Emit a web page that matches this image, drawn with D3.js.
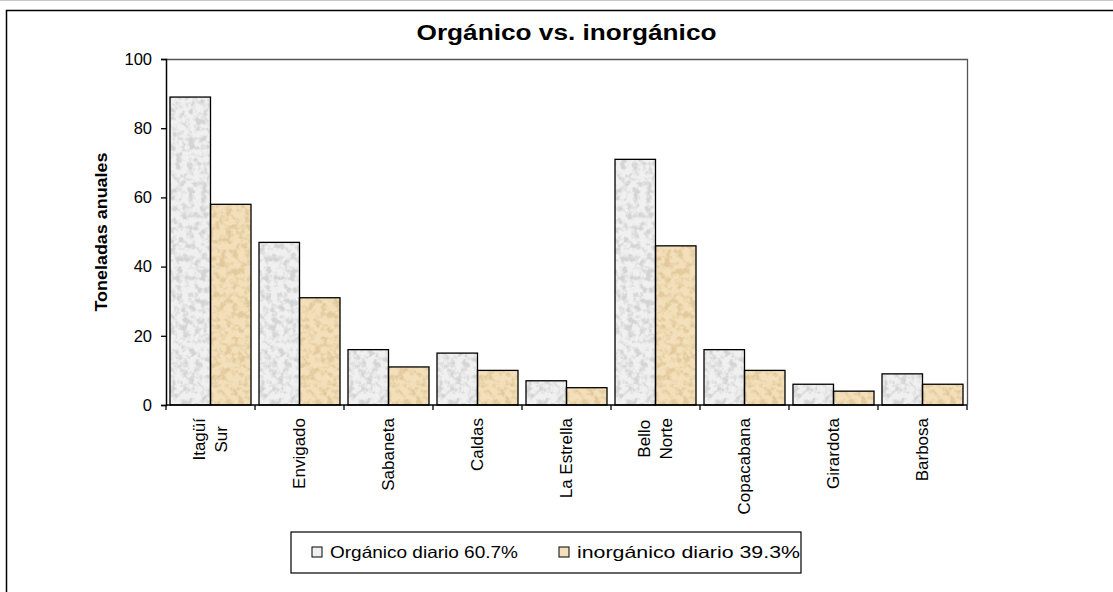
<!DOCTYPE html>
<html>
<head>
<meta charset="utf-8">
<script src="https://cdn.jsdelivr.net/npm/d3@7"></script>
<style>
  body { margin: 0; background: #fff; }
  svg { display: block; font-family: "Liberation Sans", Arial, sans-serif; }
</style>
</head>
<body>
<div id="chart"></div>
<script>
// data
const categories = [["Itagüí", "Sur"], ["Envigado"], ["Sabaneta"], ["Caldas"], ["La Estrella"],
                    ["Bello", "Norte"], ["Copacabana"], ["Girardota"], ["Barbosa"]];
const organico   = [89, 47, 16, 15, 7, 71, 16, 6, 9];
const inorganico = [58, 31, 11, 10, 5, 46, 10, 4, 6];
const seriesNames = ["Orgánico diario 60.7%", "inorgánico diario 39.3%"];
const yTicks = [0, 20, 40, 60, 80, 100];

const width = 1113, height = 592;
const plot = { left: 166, right: 967, top: 59, bottom: 405 };

const svg = d3.select("#chart").append("svg")
    .attr("width", width)
    .attr("height", height);

// speckled fills, kept soft like the reference's textured bars
const defs = svg.append("defs");
function speckle(id, spot, seed) {
    const f = defs.append("filter").attr("id", id)
        .attr("x", 0).attr("y", 0).attr("width", 1).attr("height", 1)
        .attr("color-interpolation-filters", "sRGB");
    f.append("feTurbulence").attr("type", "fractalNoise")
        .attr("baseFrequency", 0.16).attr("numOctaves", 3).attr("seed", seed).attr("result", "noise");
    f.append("feColorMatrix").attr("in", "noise").attr("type", "matrix")
        .attr("values", `0 0 0 0 ${spot[0]} 0 0 0 0 ${spot[1]} 0 0 0 0 ${spot[2]} 3.6 0 0 0 -1.55`)
        .attr("result", "spots");
    f.append("feGaussianBlur").attr("in", "spots").attr("stdDeviation", 0.6).attr("result", "soft");
    f.append("feComposite").attr("in", "soft").attr("in2", "SourceGraphic").attr("operator", "atop");
}
speckle("speckG", [0.83, 0.83, 0.83], 3);
speckle("speckT", [0.89, 0.79, 0.61], 7);

// outer frame
svg.append("line").attr("x1", 0).attr("x2", width).attr("y1", 0.5).attr("y2", 0.5)
    .attr("stroke", "#c8c8c8");
svg.append("path").attr("d", `M6.5,${height} V10.5 H${width}`)
    .attr("fill", "none").attr("stroke", "#000").attr("stroke-width", 1.5);

const x0 = d3.scaleBand()
    .domain(d3.range(categories.length))
    .range([plot.left, plot.right])
    .paddingInner(0.09)
    .paddingOuter(0.045);

const x1 = d3.scaleBand()
    .domain([0, 1])
    .range([0, x0.bandwidth()]);

const y = d3.scaleLinear()
    .domain([0, 100])
    .range([plot.bottom, plot.top]);

// plot area border (top grey, right dark)
svg.append("path")
    .attr("d", `M${plot.left},${plot.top + 0.5} H${plot.right + 0.5} V${plot.bottom}`)
    .attr("fill", "none").attr("stroke", "#555").attr("stroke-width", 1.3);

// bars
const fills = ["#f0f0f0", "#f3e0bb"];
const filters = ["url(#speckG)", "url(#speckT)"];
const rows = categories.map((c, i) => ({ i, vals: [organico[i], inorganico[i]] }));

const groups = svg.append("g").selectAll("g")
    .data(rows)
    .join("g")
    .attr("transform", d => `translate(${x0(d.i)},0)`);

groups.selectAll("rect.fill")
    .data(d => d.vals.map((v, s) => ({ v, s })))
    .join("rect")
    .attr("class", "fill")
    .attr("x", d => x1(d.s))
    .attr("y", d => y(d.v))
    .attr("width", x1.bandwidth())
    .attr("height", d => y(0) - y(d.v))
    .attr("fill", d => fills[d.s])
    .attr("filter", d => filters[d.s]);

groups.selectAll("rect.edge")
    .data(d => d.vals.map((v, s) => ({ v, s })))
    .join("rect")
    .attr("class", "edge")
    .attr("x", d => x1(d.s))
    .attr("y", d => y(d.v))
    .attr("width", x1.bandwidth())
    .attr("height", d => y(0) - y(d.v))
    .attr("fill", "none")
    .attr("stroke", "#000")
    .attr("stroke-width", 1.3);

// y axis
const yAxis = svg.append("g")
    .attr("transform", `translate(${plot.left},0)`)
    .call(d3.axisLeft(y).tickValues(yTicks).tickSize(5).tickPadding(9));
yAxis.select(".domain").attr("stroke", "#000").attr("stroke-width", 1.5);
yAxis.selectAll(".tick line").attr("stroke", "#000").attr("stroke-width", 1.3);
yAxis.selectAll(".tick text")
    .attr("font-size", 16.5)
    .attr("font-family", "Liberation Sans, Arial, sans-serif")
    .attr("fill", "#000");

// x axis: line with ticks at category boundaries
const step = x0.step();
const xBoundaries = d3.range(categories.length + 1).map(i => plot.left + i * step);
svg.append("line")
    .attr("x1", plot.left).attr("x2", plot.right)
    .attr("y1", plot.bottom).attr("y2", plot.bottom)
    .attr("stroke", "#000").attr("stroke-width", 1.5);
svg.append("g").selectAll("line")
    .data(xBoundaries)
    .join("line")
    .attr("x1", d => d).attr("x2", d => d)
    .attr("y1", plot.bottom).attr("y2", plot.bottom + 5)
    .attr("stroke", "#000").attr("stroke-width", 1.3);

// rotated category labels
const labelTop = plot.bottom + 13;
const lineGap = 22;
const labels = svg.append("g").selectAll("g")
    .data(rows)
    .join("g");
labels.each(function (d) {
    const g = d3.select(this);
    const lines = categories[d.i];
    const cx = x0(d.i) + x0.bandwidth() / 2;
    const texts = lines.map((t, k) => g.append("text")
        .text(t)
        .attr("font-size", 17)
        .attr("fill", "#000")
        .attr("dominant-baseline", "central")
        .attr("text-anchor", "middle"));
    const maxLen = d3.max(texts, t => t.node().getComputedTextLength());
    texts.forEach((t, k) => {
        const off = (k - (lines.length - 1) / 2) * lineGap;
        t.attr("transform", `translate(${cx + off},${labelTop + maxLen / 2}) rotate(-90)`);
    });
});

// y axis title
svg.append("text")
    .attr("transform", `translate(101,${(plot.top + plot.bottom) / 2}) rotate(-90)`)
    .attr("text-anchor", "middle")
    .attr("dominant-baseline", "central")
    .attr("font-size", 16)
    .attr("font-weight", "bold")
    .attr("textLength", 159)
    .attr("lengthAdjust", "spacingAndGlyphs")
    .text("Toneladas anuales");

// chart title
svg.append("text")
    .attr("x", (plot.left + plot.right) / 2)
    .attr("y", 32)
    .attr("text-anchor", "middle")
    .attr("dominant-baseline", "central")
    .attr("font-size", 22)
    .attr("font-weight", "bold")
    .attr("textLength", 300)
    .attr("lengthAdjust", "spacingAndGlyphs")
    .text("Orgánico vs. inorgánico");

// legend
const legend = svg.append("g");
legend.append("rect")
    .attr("x", 291).attr("y", 532).attr("width", 510).attr("height", 41)
    .attr("fill", "#fff").attr("stroke", "#000").attr("stroke-width", 1.2);
const legendX = [312, 559];
const legendLen = [188, 223];
seriesNames.forEach((name, s) => {
    legend.append("rect")
        .attr("x", legendX[s]).attr("y", 547).attr("width", 10).attr("height", 10)
        .attr("fill", fills[s]).attr("stroke", "#000").attr("stroke-width", 1);
    legend.append("text")
        .attr("x", legendX[s] + 18)
        .attr("y", 552)
        .attr("dominant-baseline", "central")
        .attr("font-size", 16.5)
        .attr("textLength", legendLen[s])
        .attr("lengthAdjust", "spacingAndGlyphs")
        .text(name);
});
</script>
</body>
</html>
